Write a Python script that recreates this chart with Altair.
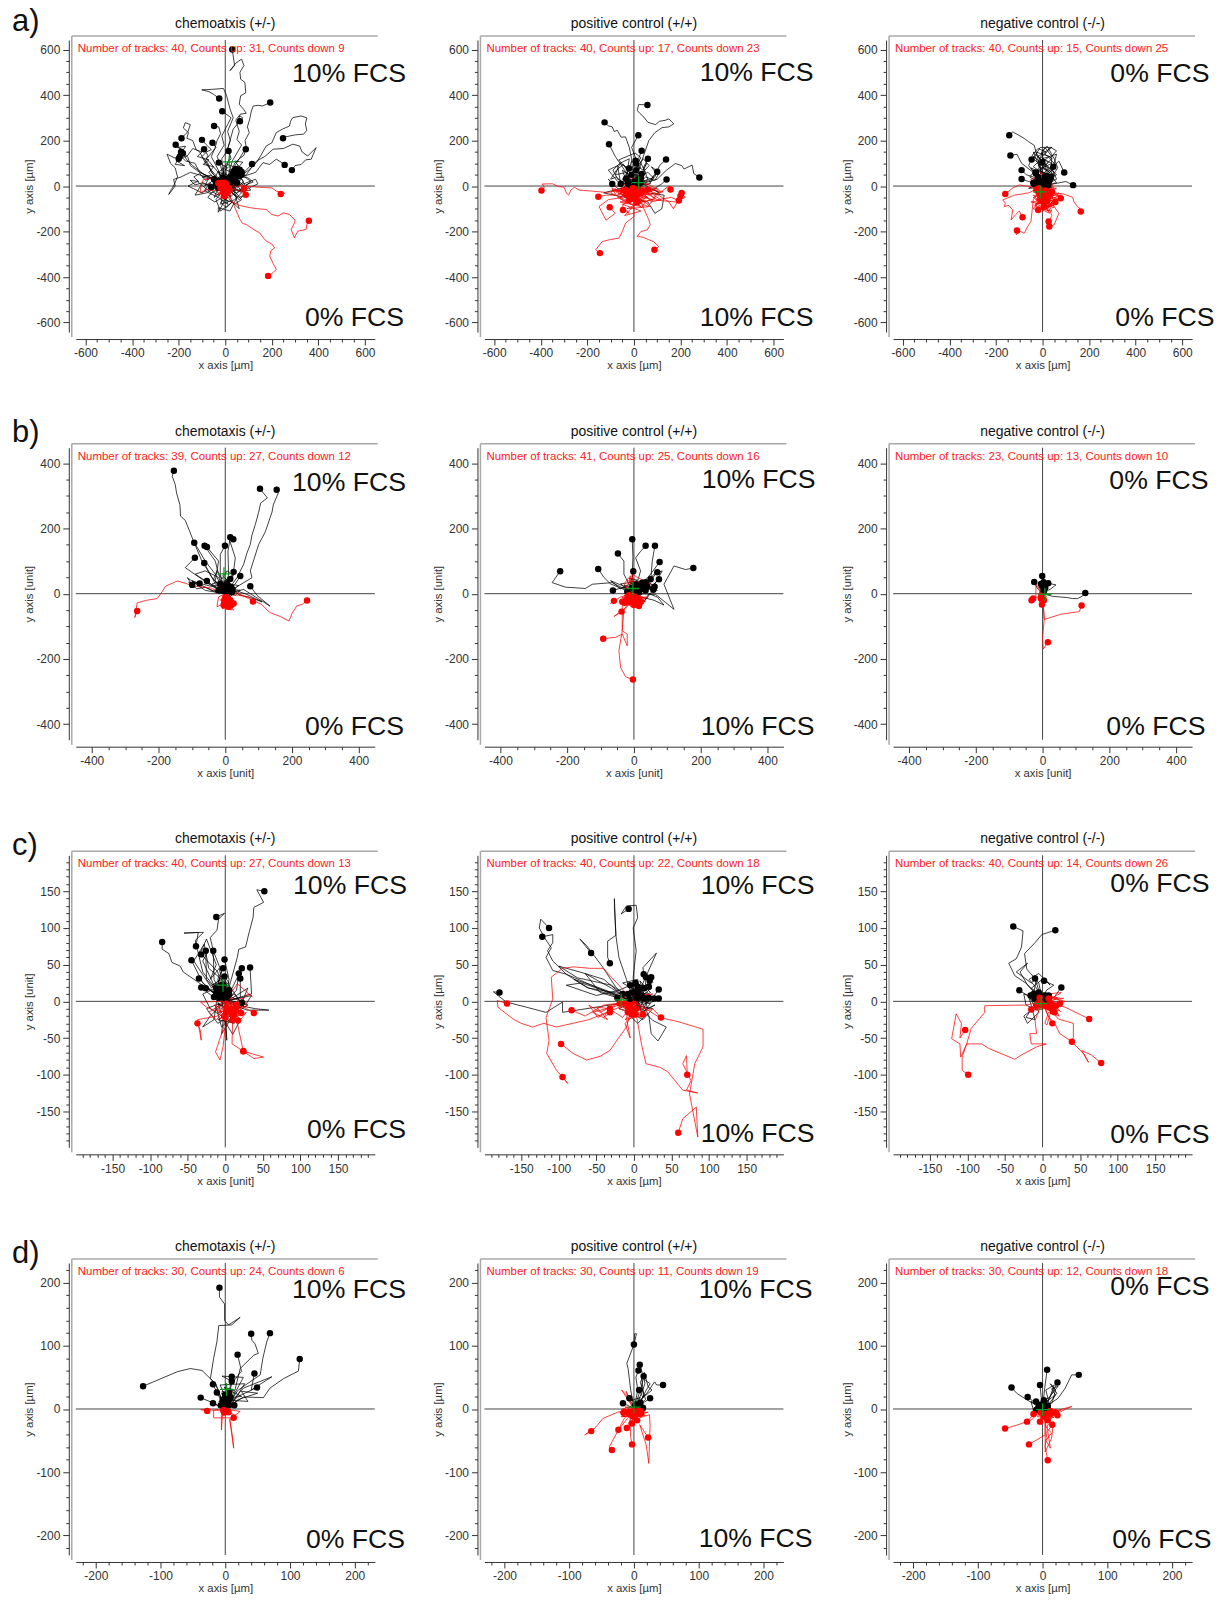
import altair as alt
import pandas as pd

FONT = "Liberation Sans"

A1_BLACK = [
 [0,0,5,85,20,130,12,170,34,250,50,270,64,316,90,320,78,338,60,360,66,397,88,410,84,456,66,470,63,500,80,530,70,558,45,540,20,507,40,530,30,600],
 [0,0,-15,120,5,150,22,200,10,240,34,300,20,340,5,400,-8,429,-60,425,-101,423,-70,415,-51,404,-26,385],
 [0,0,-20,90,-35,130,-5,180,-15,220,10,270,25,300,-13,329],
 [0,0,40,100,60,120,90,170,85,200,103,235,95,260,104,290,112,330,120,352,141,355,160,352,193,367],
 [0,0,30,110,70,180,50,205,60,240,45,290,60,310,75,300,63,285],
 [0,0,-30,70,-45,100,-60,130,-45,165,-35,200,-20,230,-28,260,-48,264],
 [0,0,60,40,100,70,134,103,150,130,176,176,200,190,219,235,245,250,276,264,280,285,290,301,326,308,350,300,344,272,350,245,336,228,300,225,262,217,248,210],
 [0,0,90,50,134,110,170,130,205,162,250,165,290,184,319,176,330,150,354,132,390,169,378,140,369,118,345,115,326,95,300,90,286,70],
 [0,0,70,40,130,60,145,80,162,103,190,95,219,118,240,105,255,93],
 [0,0,-80,40,-150,60,-190,40,-222,29,-215,0,-243,-37,-232,-15,-222,0,-205,40,-215,80,-235,100,-250,140,-220,125,-200,120],
 [0,0,-60,70,-85,100,-110,150,-125,160,-140,200,-165,210,-158,235,-180,255,-172,279,-150,270,-160,240,-188,210],
 [0,0,-60,60,-75,100,-100,130,-80,150,-60,160,-85,185,-100,203],
 [0,0,-30,60,-80,120,-60,145,-40,170,-55,190],
 [0,0,-70,40,-110,60,-150,90,-160,125,-180,150,-213,182],
 [0,0,-50,50,-85,110,-75,135,-91,162],
 [0,0,20,60,45,95,60,120,80,135,88,162],
 [0,0,-10,80,25,120,14,154],
 [0,0,-90,50,-140,90,-165,115,-182,144],
 [0,0,50,30,90,70,115,97],
 [0,0,-20,50,10,80,-28,103],
 [0,0,30,-30,60,20,90,-10,55,66],
 [0,0,-30,40,20,-20,50,30,35,55],
 [0,0,40,-40,110,20,70,50],
 [0,0,-60,20,-90,-20,-30,-50,10,-80,-10,30],
 [0,0,-40,-60,-20,-110,30,-70,60,-100,20,40],
 [0,0,50,-50,20,-110,-30,-95,-30,-115,0,-60,45,75],
 [0,0,-100,10,-130,-40,-80,-30,-50,-10,-20,20],
 [0,0,80,10,130,30,140,10,100,-10,40,-20,30,25],
 [0,0,-60,-30,-120,20,-160,0,-100,-30,-40,10],
 [0,0,90,-30,60,-60,20,-20,50,15],
 [0,0,-20,-80,40,-60,70,-30,10,15],
 [0,0,-15,12,8,25,-22,40,5,52,-30,60,-8,78,20,62,35,85,10,95,-12,70,15,40,40,55,22,20],
 [0,0,18,-14,-10,-28,25,-42,-5,-60,30,-70,5,-95,-20,-72,12,-48,-25,-30,-48,-50,-30,-8],
 [0,0,30,14,52,-8,78,20,60,42,95,38,120,18,88,5,110,-18,70,-22,45,10,62,55],
 [0,0,-22,8,-45,-12,-65,15,-88,0,-72,32,-100,40,-60,48,-40,22,-15,35,-30,65,-48,30],
 [0,0,10,30,35,15,50,45,28,70,55,90,75,65,45,50,70,35,40,30,58,70],
 [0,0,-8,-22,-30,-40,-55,-25,-75,-50,-45,-70,-20,-55,5,-35,-15,-15,5,15],
 [0,0,22,-18,48,-30,70,-12,92,-35,60,-50,35,-35,15,-55,40,-80,70,-60,30,-10,48,60],
 [0,0,-12,18,-35,5,-20,-15,12,-8,30,30,5,45,-15,28,10,10,40,62],
 [0,0,15,8,-5,-12,28,-22,45,5,20,35,65,25,50,68],
 [0,0,-18,-5,4,-18,-12,-38,15,-30,-3,5,25,5,5,30,-5,12],
 [0,0,-40,25,-70,60,-50,85,-95,95,-70,115,-120,130,-100,150,-140,165,-165,130,-190,125,-210,110,-175,90,-215,95,-195,130],
 [0,0,-65,40,-110,60,-130,100,-170,110,-200,140,-180,160,-205,170,-170,175,-205,120,-190,150],
 [0,0,35,40,15,70,60,85,40,110,75,105,55,80,85,60,65,30,45,70],
 [0,0,-35,10,-55,40,-85,25,-110,55,-135,40,-115,20,-150,25,-130,5,-95,15,-60,-5],
 [0,0,55,60],[0,0,62,72],[0,0,70,62],[0,0,48,50],[0,0,-12,38],[0,0,8,30],[0,0,-30,20],[0,0,20,12],
]
A1_RED = [
 [0,0,30,-70,60,-85,105,-95,140,-100,176,-103,200,-125,226,-132,250,-118,276,-125,300,-150,297,-162,283,-191,297,-228,305,-210,312,-198,347,-191,350,-170,359,-153],
 [0,0,35,-80,63,-147,75,-165,91,-169,120,-190,148,-206,165,-230,176,-242,200,-255,212,-272,195,-285,191,-308,205,-340,212,-353,219,-367,200,-385,184,-395],
 [0,0,91,0,140,-5,176,-7,200,-8,219,-22,255,-32,238,-35],
 [0,0,40,-15,70,-25,88,-38],
 [0,0,50,10,75,0,80,-12],
 [0,0,-50,-20,-80,-15,-108,-29,-105,0,-94,29,-70,30,-51,44,-35,15,-20,-10,5,-5],
 [0,0,-30,30,10,40,-15,-25,20,-40,-10,-10],
 [0,0,20,-30,-20,-50,-40,-15,15,20,5,-30],
 [0,0,-40,-10,-25,-40,25,-20,-5,15],
 [0,0,-15,20,15,15,-20,-15,12,-30,-25,-35,-8,-8,20,5,-10,25,-30,12],
 [0,0,25,10,-5,-20,30,-15,10,-45,-12,-25,-30,5,-5,30,15,-10],
 [0,0,-10,-15,18,-5,-25,-20,8,-35,35,-25,5,5,-15,15],
 [0,0,-10,-25],[0,0,10,-30],[0,0,-20,-8],[0,0,15,-10],[0,0,3,10],[0,0,-5,-45],
]
A2_BLACK = [
 [0,0,30,100,64,200,90,235,121,257,150,260,171,274,150,295,135,289,110,285,93,270,60,280,43,303,25,320,14,333,21,359,58,356],
 [0,0,-10,120,-20,170,-36,216,-55,215,-71,245,-85,240,-93,260,-110,265,-126,280],
 [0,0,-40,70,-60,100,-80,130,-107,184],
 [0,0,20,90,-10,170,19,223],
 [0,0,50,60,20,120,33,155],
 [0,0,-30,40,30,80,7,111],
 [0,0,-50,30,-20,70,10,99],
 [0,0,60,30,40,80,60,120],
 [0,0,90,40,110,90,138,117],
 [0,0,100,30,140,70,178,99,205,90,215,75,250,92,257,55,281,38],
 [0,0,70,10,80,40,100,63],
 [0,0,90,-10,120,10,140,29],
 [0,0,-40,20,10,30,33,53],
 [0,0,-70,30,-90,70,-60,100,-21,77],
 [0,0,-60,-20,-110,30,-93,9],
 [0,0,-70,20,-110,70,-70,90,-57,9],
 [0,0,-30,60,-80,50,-60,100,-20,120,-33,33],
 [0,0,60,-30,130,-40,120,-100,90,-120,60,-70,-130,-30,20,10],
 [0,0,-20,30,-50,15,-75,40,-100,30,-75,70,-45,95,-25,65,-10,110,15,85,40,120,65,90,30,50,5,20],
 [0,0,30,20,60,5,85,35,60,60,30,45,5,70,-20,50,-50,70,-35,30,-60,10,-25,10],
 [0,0,-35,5,-50,-15,-15,-25,20,-15,50,-25,85,-15,110,-30,60,-5,30,15],
 [0,0,20,45,-15,55,-40,85,-65,115,-30,130,5,145,30,125,10,90,40,70,55,100,20,30],
 [0,0,-45,-10,-5,10,25,-5,45,25,15,40,-20,25,-45,30,-10,-5],
 [0,0,70,25,95,55,75,85,110,60,90,25,50,40,25,15],
 [0,0,10,70],[0,0,-10,50],[0,0,30,35],
]
A2_RED = [
 [0,0,-60,-20,-121,-28,-180,-22,-235,-18,-255,-5,-271,-18,-280,-40,-290,-32,-300,-5,-321,-3,-350,10,-394,9,-385,-5,-397,-20],
 [0,0,-70,-40,-120,-40,-153,-47],
 [0,0,-50,-50,-110,-60,-150,-90,-120,-150,-80,-120,-104,-93],
 [0,0,-30,-60,-50,-90,-20,-120,-47,-105],
 [0,0,0,-134,-36,-163,-50,-200,-64,-229,-100,-235,-136,-244,-164,-280,-146,-295],
 [0,0,30,-70,64,-149,70,-170,57,-193,30,-200,14,-222,40,-225,64,-236,85,-245,107,-266,88,-280],
 [0,0,60,-40,110,-30,150,0,157,-15],
 [0,0,90,-30,150,-70,170,-100,200,-44],
 [0,0,100,-60,160,-50,193,-64],
 [0,0,70,-60,180,-70,220,-50,205,-30],
 [0,0,-40,-30,40,-50,-60,-70,30,-90,-80,-20,60,-20,-20,-60],
 [0,0,50,-20,-50,-40,30,-70,-30,-100,70,-90,10,-40],
 [0,0,-90,-20,-20,-30,80,-60,-10,-80,-70,-50,20,-20],
 [0,0,30,30,-40,40,-20,-10,50,10,80,-30,-5,-50],
 [0,0,20,-60,-30,-20,60,-50,-50,-80,30,-110,-40,-130,15,-70],
 [0,0,-60,10,-100,-30,-40,-60,40,-35,100,-10,-10,-30],
 [0,0,40,20,110,-20,60,-90,-10,-60,25,-30],
 [0,0,-30,-10,10,-70,-60,-30,35,-10,-15,-40],
 [0,0,-25,-25,5,-35,-20,-50,15,-60,-35,-70,0,-85,30,-75,55,-45,25,-20,-10,-15,-30,-35],
 [0,0,25,-15,-5,-45,30,-40,60,-30,90,-55,45,-70,10,-55,35,-25,0,-20],
 [0,0,-15,-30,15,-25,-40,-45,-15,-65,25,-55,-5,-20,-45,-20,-70,-35,-25,-40],
 [0,0,10,-20,40,-10,15,-40,50,-45,75,-70,115,-60,85,-40,125,-25,60,-15],
 [0,0,-10,-40,20,-30,5,-75,35,-95,50,-65,-5,-50,-25,-75,-60,-55,-35,-20],
 [0,0,-50,-5,-80,-35,-95,-10,-60,-25,-35,-5,-15,-20,10,5,35,-20,15,-35],
 [0,0,-10,-25],[0,0,15,-35],[0,0,-30,-40],[0,0,35,-20],[0,0,5,-55],[0,0,-45,-20],[0,0,20,-15],[0,0,-5,-10],
]
A3_BLACK = [
 [0,0,-10,80,-25,140,-36,179,-60,195,-78,209,-105,225,-128,238,-143,223],
 [0,0,-40,60,-90,100,-110,140,-138,134],
 [0,0,-40,40,-70,50,-90,70],
 [0,0,-60,20,-90,31],
 [0,0,-30,50,-60,90,-47,117],
 [0,0,30,60,-20,90,30,130,-30,150,-1,105],
 [0,0,50,40,-20,70,40,100,0,120,60,140,46,85],
 [0,0,60,30,40,80,70,110,93,60],
 [0,0,50,10,100,20,131,4],
 [0,0,-29,55],
 [0,0,20,30,-20,100,10,170,40,130,36,41],
 [0,0,-20,20,30,60,-40,120,-10,170,40,170,-20,130,50,60,-5,10],
 [0,0,-50,5,20,10,-30,30,50,30,-50,80,-20,40],
 [0,0,40,-5,-60,-10,10,20,60,50,15,90,-40,150,10,25],
 [0,0,-30,-15,30,-10,-40,15],
 [0,0,-25,35,-5,60,-40,85,-15,110,-45,135,-20,165,15,150,-5,125,25,105,0,80,35,65,10,40],
 [0,0,20,20,50,45,25,75,55,95,30,120,60,155,35,170,10,140,40,120,15,95,-10,70,15,45],
 [0,0,-15,15,15,35,-15,50,-30,25,-55,40,-35,65,-10,40,5,20,-15,5],
 [0,0,30,10,45,30,15,45,-10,30,-45,20,-20,10,10,5],
 [0,0,-35,25,-20,75,-5,95,25,80,5,55,35,30,-5,25,-30,60],
 [0,0,25,40,-5,150,20,175,50,120,65,80,40,40,60,15,25,5],
 [0,0,-25,12],[0,0,-10,20],[0,0,15,15],[0,0,-35,8],[0,0,30,25],
]
A3_RED = [
 [0,0,-40,-5,-100,5,-130,-10,-160,-35],
 [0,0,-60,-30,-120,-40,-171,-61,-160,-75,-164,-90,-145,-85,-128,-105,-135,-149,-115,-125,-100,-110,-86,-137],
 [0,0,-40,-60,-45,-110,-50,-156,-65,-180,-78,-207,-95,-200,-114,-214,-110,-195],
 [0,0,50,-30,90,-35,130,-50,135,-70,150,-90,175,-115,164,-112],
 [0,0,30,-60,70,-120,60,-145,50,-170,29,-178],
 [0,0,20,-80,40,-130,26,-156],
 [0,0,-10,-60,-40,-100,-19,-105],
 [0,0,40,-30,90,-50,78,-54],
 [0,0,-30,-30,50,-40,-20,-70,60,-80,-10,-100,40,-110,0,-30],
 [0,0,30,-20,-40,-50,20,-90,70,-60,10,-30,-30,-90,30,-120,-5,-50],
 [0,0,-20,40,-50,30,-30,-10,20,30,-10,60,30,40,50,-20,0,-60],
 [0,0,60,-10,-30,-30,30,-60,-50,-70,40,-90,-20,-40,80,-40,5,-70],
 [0,0,-40,-20,40,-10,-10,-70,70,-30,20,-100,-40,-40,55,-70],
 [0,0,20,-50,-30,-80,50,-60,0,-110,35,-30,-15,-20],
 [0,0,-15,-15,15,-25,-25,-35,20,-45,-20,-55,25,-65,-15,-75,30,-85,-5,-95,10,-60,-25,-15],
 [0,0,15,-10,-25,-20,30,-30,-10,-45,45,-50,5,-70,-30,-60,10,-85,50,-95,-5,-30],
 [0,0,-25,-10,25,-15,-30,-40,40,-35,-5,-60,-35,-85,15,-100,65,-70,25,-45,-15,-10],
 [0,0,10,-30,-40,-25,35,-55,-5,-25,55,-25,15,-75,-30,-75,25,-110,5,-50],
 [0,0,-10,25,20,15,-25,20,10,50,-20,45,15,-5,-35,5,25,-25,-5,-40],
 [0,0,10,-20],[0,0,-15,-30],[0,0,25,-40],[0,0,-10,-55],[0,0,20,-65],[0,0,5,-90],[0,0,-25,-15],[0,0,40,-25],
]
B1_BLACK = [
 [0,0,-30,60,-60,100,-95,161,-114,210,-120,225,-134,238,-136,273,-146,309,-150,335,-159,360,-154,377],
 [0,0,35,49,55,90,65,125,75,151,80,180,90,212,100,250,106,278,126,294,104,322],
 [0,0,80,49,75,70,100,151,120,190,134,232,140,250,144,273,159,309,154,319],
 [0,0,-40,50,-70,100,-93,156],
 [0,0,-20,60,-30,100,-62,147],
 [0,0,-30,40,-20,100,-55,143],
 [0,0,-15,60,-15,120,-1,147],
 [0,0,10,60,8,130,15,173],
 [0,0,25,70,30,110,8,180,24,167],
 [0,0,-50,30,-120,80,-91,110],
 [0,0,-30,30,-63,94],
 [0,0,30,30,45,54],
 [0,0,55,13,134,-38,95,-5,75,23],
 [0,0,15,40,25,67],
 [0,0,-60,10,-114,49,-99,27],
 [0,0,-40,10,-100,40,-77,31],
 [0,0,-25,15,-55,39],
 [0,0,-40,30,-10,40,-20,10],
 [0,0,20,10,40,25,10,30,22,12],
 [0,0,-10,-30,15,-10,5,30],
 [0,0,30,-5,45,10,15,15],
 [0,0,-30,5,-15,25,-5,15],
 [0,0,-20,50,-60,70,-90,60,-30,20,-10,20],
 [0,0,-15,15,-35,8,-60,20,-85,15,-110,35,-70,30,-40,22,-15,30],
 [0,0,20,15,10,40,25,55,5,70,-10,45,-25,70,-35,45,-15,20,5,25],
 [0,0,15,-8,35,8,60,0,90,-15,110,-25,75,-12,40,-3,18,20],
 [0,0,-12,10,8,18,-15,30,6,42,-8,55,12,35,-5,8],
 [0,0,10,20,-8,22,18,30,0,10,-18,20,-5,40,15,45],
 [0,0,5,8],[0,0,-10,12],[0,0,12,22],[0,0,20,5],[0,0,0,25],
]
B1_RED = [
 [0,0,-45,18,-94,23,-120,32,-144,39,-179,23,-190,5,-204,-15,-235,-20,-264,-28,-271,-73,-264,-53],
 [0,0,35,3,70,-15,109,-33,125,-50,134,-58,165,-70,191,-84,200,-60,214,-38,234,-31,245,-21],
 [0,0,40,-5,70,-10,83,-24],
 [0,0,-15,-20,20,-30,-10,-45,25,-50,5,-25],
 [0,0,20,-15,-10,-35,15,-50,0,-20,25,-30],
 [0,0,-10,20,10,40,-15,30,5,-10,10,-40],
 [0,0,15,-30,-5,-15,20,-40,12,-22],
 [0,0,-20,-10,-25,-40,10,-25,-5,-35],
 [0,0,25,-20,5,-45,-5,-20,18,-35],
 [0,0,-5,-10,15,-15,0,-25,18,-28,2,-40,20,-42,5,-30,15,-22],
 [0,0,8,-18,-8,-28,12,-35,-12,-40,10,-45,22,-25,0,-12],
 [0,0,12,-8,-2,-18,20,-20,8,-32,25,-38,-3,-32],
 [0,0,5,-30],[0,0,12,-38],[0,0,-3,-22],[0,0,18,-28],[0,0,8,-15],[0,0,15,-20],
]
B2_BLACK = [
 [0,0,-5,60,-3,110,-5,167],
 [0,0,20,70,5,110,20,130,35,147],
 [0,0,50,40,55,100,60,130,63,147],
 [0,0,-30,60,-30,100,-48,123],
 [0,0,50,60,77,97],
 [0,0,65,-2,120,-48,90,29,120,85,155,74,178,79],
 [0,0,-65,34,-125,29,-145,16,-205,20,-245,34,-221,69],
 [0,0,-70,30,-90,50,-107,76],
 [0,0,-30,20,-63,10],
 [0,0,40,30,70,66],
 [0,0,50,20,75,44],
 [0,0,20,-5,35,10],
 [0,0,40,10,62,21],
 [0,0,-10,30,-2,69],
 [0,0,-20,6],
 [0,0,20,20,5,29],
 [0,0,10,10,25,34],
 [0,0,30,15,50,44],
 [0,0,-40,30,30,40,-20,10,45,25,10,10],
 [0,0,60,25,85,70,60,60,25,15,-30,25,15,5],
 [0,0,15,12,35,5,55,25,40,40,20,28,-5,22,15,18],
 [0,0,-15,8,-35,25,-70,40,-40,15,-10,30,10,42,-15,48,5,12],
 [0,0,25,8,45,18,70,10,50,32,28,20,10,35,35,35],
 [0,0,-8,15,12,8,-12,25,8,22,-5,40,22,22],
 [0,0,20,-10,60,-20,90,-35,70,-10,45,0,30,-25,58,12],
 [0,0,10,12],[0,0,25,18],[0,0,40,22],[0,0,-5,18],
]
B2_RED = [
 [0,0,-35,-30,-35,-114,-45,-175,-40,-226,-25,-255,-3,-263],
 [0,0,-30,-50,-35,-114,-20,-124,-20,-160,-35,-124,-55,-134,-92,-138],
 [0,0,-20,-40,-60,-70,-37,-55],
 [0,0,-40,-10,-70,-30,-60,-22],
 [0,0,-30,-10,15,-30,-20,-35,30,-20,-10,-25],
 [0,0,35,-15,-15,-25,25,-35,-25,-15,40,-10,0,-30],
 [0,0,-40,-20,20,-15,-10,-40,30,-30,-35,-25],
 [0,0,-5,25,-5,60,10,50,50,30,-20,40,5,-15],
 [0,0,10,-25,-30,-5,25,-10,-15,-35,15,-38],
 [0,0,-20,-12,5,-20,-28,-28,12,-28,-10,-15,22,-20,0,-35,-18,-22],
 [0,0,25,-18,-5,-10,-22,-25,18,-35,-8,-32,28,-12,5,-25],
 [0,0,-12,-25,15,-15,-35,-12,-5,-28,35,-25,8,-12],
 [0,0,-25,15,-12,40,5,25,-15,10,-30,30,-10,55,-15,-5],
 [0,0,-10,-25],[0,0,10,-30],[0,0,-20,-20],[0,0,20,-25],[0,0,0,-35],[0,0,-28,-28],
]
B3_BLACK = [
 [0,0,30,-8,75,-12,90,-15,105,-15,120,-7,128,2],
 [0,0,-5,25,5,40,-1,54],
 [0,0,-15,15,-25,36],
 [0,0,10,15,20,38,5,25],
 [0,0,25,15,40,27,17,32],
 [0,0,-8,20,10,30,-5,30],
 [0,0,5,10,-10,30,8,18],
 [0,0,-10,5,8,12,-12,18,10,22,-6,10,3,35],
 [0,0,12,8,-5,15,15,28,-2,22,4,8],
]
B3_RED = [
 [0,0,5,-79,55,-63,110,-55,117,-36],
 [0,0,5,-79,0,-135,2,-170,16,-149],
 [0,0,-20,30,-20,-10,-33,-20],
 [0,0,-15,-10,-28,-15],
 [0,0,-2,-33],
 [0,0,10,-20,-10,-25,12,-10,-5,-15],
 [0,0,-6,-12,8,-8,-8,-22,6,-28,12,-18,-4,-6],
 [0,0,8,-6,-4,-18,10,-25,-10,-12,4,-20],
]
C1_BLACK = [
 [0,0,8,30,16,60,18,71,27,74,32,95,37,114,38,128,51,135,42,152,52,150],
 [0,0,-36,26,-56,40,-60,48,-71,53,-75,65,-84,71,-84,81],
 [0,0,-15,30,-16,69,-20,87,-11,97,-9,112,-1,120,-12,115],
 [0,0,-30,40,-40,83,-29,94,-55,93,-36,94,-39,75],
 [0,0,-10,40,-32,64],
 [0,0,-25,30,-26,69],
 [0,0,-5,40,-16,69],
 [0,0,-30,25,-45,56],
 [0,0,5,30,-1,57],
 [0,0,-10,30,-3,45],
 [0,0,10,20,22,45],
 [0,0,35,10,33,46],
 [0,0,15,15,18,38],
 [0,0,20,5,20,31],
 [0,0,-20,15,-35,31],
 [0,0,-15,5,-32,19],
 [0,0,-10,10,-26,18],
 [0,0,5,25,-1,34],
 [0,0,29,-12,58,-12,40,-10,15,-5,-7,13],
 [0,0,2,-53,0,-30,-6,10],
 [0,0,-20,-20,-30,-35,-15,-25,-10,12],
 [0,0,20,-25,10,-45,-5,-20,-12,8],
 [0,0,35,8,28,-3,10,5,-3,15],
 [0,0,-25,-10,-10,-30,15,-15,30,-5,-8,5],
 [0,0,10,-30,-20,-10,-30,10,-5,22],
 [0,0,-5,-45,15,-10,-3,8],
 [0,0,25,-5,-10,-25,12,-30,5,10],
 [0,0,-12,15,-30,55,-22,70,-35,62,-25,85,-12,50,-20,30,-8,45,-3,20],
 [0,0,-18,22,-5,30,-22,45,-28,78,-42,55,-18,18,-8,30,-12,12],
 [0,0,12,10,25,-8,5,22,-6,35,-15,10,-8,18,6,14,-3,8],
 [0,0,-8,8,8,5,-12,15,3,18,-15,22,0,28,-8,10],
 [0,0,6,-12,-10,-3,12,-18,-5,-35,-12,-8,15,8,30,18,22,-2],
 [0,0,-8,10],[0,0,-12,18],[0,0,-4,14],[0,0,2,6],[0,0,-15,6],[0,0,-2,22],[0,0,5,15],
]
C1_RED = [
 [0,0,-10,-20,-37,-25,-32,-53,-33,-40,-37,-30],
 [0,0,-2,-35,-13,-69,-7,-80,-3,-62,0,-35,10,-20,9,-58,24,-68],
 [0,0,15,-25,24,-68,38,-78,51,-76,24,-68],
 [0,0,20,-5,38,-16],
 [0,0,10,-15,17,-26],
 [0,0,15,-10,21,-16],
 [0,0,16,24,36,6,30,10,8,-10],
 [0,0,-33,-1,-25,-8,-15,-12,5,-15],
 [0,0,10,5,-5,-20,15,-20,-3,-8,10,-25],
 [0,0,8,-12,-10,-15,18,-8,0,-22],
 [0,0,20,-15,5,-25,-15,-5,12,-18],
 [0,0,22,-8,12,-22,28,-15,18,-28,5,-10,-8,-25,15,-5],
 [0,0,-22,-15,-12,-25,5,-8,22,5,30,-5,14,-12],
 [0,0,8,-15],[0,0,14,-10],[0,0,2,-8],
]
C2_BLACK = [
 [0,0,-35,12,-63,25,-90,37,-108,42,-117,60,-110,73,-118,85,-126,100,-124,112,-113,100],
 [0,0,-63,19,-90,37,-108,55,-115,69,-108,80,-108,91,-122,88],
 [0,0,-1,33,3,69,-1,100,5,114,3,131,-10,130,-17,119,-7,126],
 [0,0,-10,30,-20,60,-24,90,-26,128,-26,140,-24,90,-35,82,-35,60,-32,52],
 [0,0,-24,19,-41,46,-63,76,-72,85,-57,66],
 [0,0,-95,-15,-95,-1,-117,-15,-143,-8,-170,-1,-187,13,-179,12],
 [0,0,10,20,30,66,12,46,13,37],
 [0,0,15,15,16,33],
 [0,0,20,15,23,33],
 [0,0,10,15,21,28],
 [0,0,25,5,33,16],
 [0,0,20,-3,33,4],
 [0,0,12,-5,27,4],
 [0,0,25,-26,43,-35,38,-44,32,-54,23,-44,20,-20,5,10],
 [0,0,-40,15,-70,25,-90,22,-50,8,-20,15,2,25],
 [0,0,15,-20,5,-30,-10,-15,5,5,-5,22],
 [0,0,-15,5,10,10,-15,25,5,30,8,8],
 [0,0,-20,-10,10,-18,22,-3,-8,10],
 [0,0,5,25,15,8,-5,15,12,-12,20,5],
 [0,0,-50,20,-80,30,-60,18,-15,10],
 [0,0,-30,22,-75,32,-100,48,-72,40,-40,30,-15,8,-30,18,-65,38,-45,12,-22,5],
 [0,0,8,12,-6,20,12,22,2,5,18,12,8,-8,-8,-8,14,18],
 [0,0,-10,8,6,-5,-5,14,12,2,-12,-5,5,20],
 [0,0,22,12,8,28,18,-10,28,-5,10,-15,2,12],
 [0,0,-6,-15,12,-25,25,-10,0,-5,-12,10,10,22,20,20],
 [0,0,5,5],[0,0,-3,12],[0,0,10,8],[0,0,6,15],[0,0,-6,3],[0,0,14,4],
]
C2_RED = [
 [0,0,-60,-25,-103,-35,-120,-30,-135,-35,-150,-30,-161,-24,-181,-8,-182,1,-169,-3],
 [0,0,-41,45,-59,45,-80,47,-95,45,-110,33,-108,3,-117,-22,-113,-53,-116,-71,-103,-94,-88,-112,-95,-103],
 [0,0,-10,-35,-32,-67,-45,-75,-63,-80,-81,-71,-97,-58],
 [0,0,10,-58,16,-85,35,-90,45,-96,65,-121,85,-125,70,-121,76,-108,65,-85,70,-74,71,-100],
 [0,0,34,-22,60,-28,92,-38,92,-62,81,-85,74,-126,85,-185,83,-144,65,-160,59,-179],
 [0,0,-40,-5,-65,-20,-83,-12],
 [0,0,-55,-15,-35,-25,-50,-8,-32,-10],
 [0,0,-30,-5,-40,-22,-32,-15],
 [0,0,10,-15,25,-10,36,-22],
 [0,0,-19,-3],
 [0,0,-10,-22,-5,-50,-12,-30,5,-15,-5,-15],
 [0,0,15,-10,-10,-12,8,5,-8,-8,12,-18],
 [0,0,-5,-15,-15,5,10,12,-3,-18],
 [0,0,25,10,-5,8,-20,-10,10,-22,-7,-5],
 [0,0,-25,-5,-45,-15,-60,-5,-48,-22,-30,-12,-15,-22,-5,-8],
 [0,0,-8,-12,6,-20,-12,-25,8,-10,-15,-8,2,-18],
 [0,0,-8,-8],[0,0,-4,-14],[0,0,-12,-3],[0,0,3,-10],[0,0,-8,-15],
]
C3_BLACK = [
 [0,0,-10,12,-21,24,-37,35,-45,52,-35,58,-28,74,-26,96,-39,102],
 [0,0,-5,25,-21,44,-24,65,-10,80,-1,91,17,97],
 [0,0,-5,15,-10,31],
 [0,0,5,15,15,22,2,28],
 [0,0,15,5,25,19],
 [0,0,-15,5,-31,15],
 [0,0,-16,8],
 [0,0,-25,-20,-20,-30,-5,-15,-12,8],
 [0,0,5,12,-8,8,3,-10,-5,12],
 [0,0,8,-5,12,10,-3,5,8,8],
 [0,0,-18,5,-10,-25,-22,-22,-5,6],
 [0,0,-20,22,-30,40,-20,52,-35,40,-15,25,-8,32,-12,10],
 [0,0,-8,18,-18,30,-5,38,10,22,2,32,-15,18,3,5],
 [0,0,10,8,-10,3,12,-3,-8,10,-3,-8,6,6],
 [0,0,-12,5,-25,10,-22,-5,-8,-12,-16,3,5,-3],
 [0,0,-6,6],[0,0,2,8],[0,0,8,4],[0,0,-10,3],
]
C3_RED = [
 [0,0,-21,-5,-77,-6,-77,-15,-95,-37,-101,-58,-109,-76,-110,-58,-121,-51,-115,-17,-108,-30,-110,-50,-103,-39],
 [0,0,-10,-26,-8,-44,-17,-44,-15,-58,5,-58,-8,-62,-28,-73,-37,-79,-72,-64,-81,-58,-101,-58,-107,-76,-107,-94,-99,-100],
 [0,0,8,-21,16,-30,23,-44,39,-55,56,-73,61,-83,52,-67,65,-73,78,-84],
 [0,0,21,-24,41,-30,41,-49,39,-55],
 [0,0,30,-8,62,-24],
 [0,0,5,-15,13,-30],
 [0,0,-15,-11],
 [0,0,10,-12,16,-15],
 [0,0,23,-3],
 [0,0,-10,-8,10,8,-12,8,25,12,-5,-8,18,-12,0,-5],
 [0,0,12,-8,-8,-12,20,5,-3,10,-10,-5,10,-3],
 [0,0,-8,5,15,-10,5,10,-12,-3,8,-8],
 [0,0,18,-12,22,-20,8,-15,3,-30,6,-32,12,-10],
 [0,0,-7,-6,6,5,-8,4,4,-7,-4,8,10,0,-6,-3],
 [0,0,28,4,12,5,30,0,14,-8,24,-14,8,2,-4,5],
 [0,0,-5,-3],[0,0,5,-6],[0,0,8,4],[0,0,-8,-6],[0,0,12,-4],[0,0,18,-6],[0,0,14,-14],
]
D1_BLACK = [
 [0,0,-15,40,-23,48,-18,80,-13,106,-10,132,10,133,23,145,5,133,-1,140,-1,166,-9,177,-9,192],
 [0,0,15,30,23,64,44,85,51,88,46,103,41,109,40,119],
 [0,0,20,30,54,54,58,80,64,106,69,120],
 [0,0,10,40,25,60,19,86],
 [0,0,28,19,59,18,69,33,90,48,113,60,115,79],
 [0,0,-15,40,-36,61,-54,64,-74,59,-127,36],
 [0,0,28,33,72,51,40,30,45,56],
 [0,0,20,20,49,34],
 [0,0,-10,20,-19,39],
 [0,0,5,20,10,51],
 [0,0,12,20,28,50,-5,52,10,44],
 [0,0,-20,10,-38,18],
 [0,0,-19,9],
 [0,0,-5,15,-13,26],
 [0,0,14,6],
 [0,0,20,15,50,25,25,28,35,12,5,14],
 [0,0,-8,10,8,25,-5,28,-3,12],
 [0,0,10,8,30,40,-8,38,6,6,-2,16],
 [0,0,5,12,-6,6,8,20,-4,22,3,8,-8,16,6,26],
 [0,0,-4,14,12,16,-6,24,14,30,-2,34,25,20,8,18],
 [0,0,-8,5,2,10,-10,12,4,18,-5,10,0,22],
 [0,0,0,8],[0,0,-4,14],[0,0,4,12],[0,0,-7,6],[0,0,6,6],[0,0,2,20],
]
D1_RED = [
 [0,0,-10,-2,-38,-1,-28,-3],
 [0,0,-18,-2,-18,-14,8,-14,7,-17,10,-36,13,-62,7,-17,13,-14],
 [0,0,-6,-10,-6,-33,-4,-6,-2,-2],
 [0,0,12,-2,23,-4,15,-10,5,-5],
 [0,0,-5,-8,5,-3,-5,-4,3,-8,-3,-2],
 [0,0,4,-5,-6,-4,2,-9,-4,-10,5,-7,0,-3],
 [0,0,-2,-5],[0,0,3,-4],
]
D2_BLACK = [
 [0,0,-5,30,-9,64,-11,72,0,102,4,119,1,119,0,102],
 [0,0,10,30,15,50,9,70],
 [0,0,6,30,3,50,7,61],
 [0,0,12,25,17,40,15,52],
 [0,0,15,20,20,25,32,43,35,38,45,38],
 [0,0,15,10,25,17],
 [0,0,14,2],
 [0,0,-8,5,-17,9],
 [0,0,-3,8,-7,17],
 [0,0,15,20,12,50,25,40,18,28,10,10],
 [0,0,8,4,10,3],
 [0,0,18,15,10,42,16,58,22,35,28,30,14,18,8,30],
 [0,0,-6,4,6,10,-4,14,10,18,2,6],
]
D2_RED = [
 [0,0,-25,-5,-48,-15,-60,-30,-76,-41,-66,-35],
 [0,0,-15,-15,-25,-35,-38,-60,-34,-65],
 [0,0,-10,-15,-24,-33],
 [0,0,-5,-15,-11,-30],
 [0,0,-3,-23],
 [0,0,-6,-20,-5,-45,-3,-56],
 [0,0,6,-15,24,-9,25,-25,23,-86,19,-57,9,-25,22,-45],
 [0,0,11,-7],
 [0,0,-19,30,-9,19,-12,28,-3,5,-20,-8,18,-10,-15,-5,10,-3],
 [0,0,-22,-6,12,-12,-18,-12,22,-5,-8,-14,5,-18],
 [0,0,-14,3,15,2,-20,-3,8,-8,-12,-10,2,-4],
 [0,0,-18,-2,8,-4,-15,-8,14,-6,-6,-2,-20,-12,10,-12,-4,-8],
 [0,0,10,-5,-12,-3,18,-3,-8,-10,4,-14,-16,-6],
 [0,0,-10,-5],[0,0,-4,-8],[0,0,4,-5],[0,0,-15,-4],[0,0,8,-3],[0,0,0,-12],
]
D3_BLACK = [
 [0,0,-25,15,-40,25,-48,34],
 [0,0,-12,10,-23,19],
 [0,0,-10,12],
 [0,0,-2,18,-4,38],
 [0,0,3,30,7,62],
 [0,0,12,20,23,42],
 [0,0,24,17,35,33,45,54,56,54],
 [0,0,15,10,20,30,12,40,22,25,8,5],
 [0,0,-8,3,8,5,-5,8,5,2],
 [0,0,10,15,18,38,5,30,10,10,-3,5],
 [0,0,-14,-2,-18,12,-7,6,3,2],
 [0,0,6,12,20,22,14,32,24,36,10,18,2,14],
 [0,0,-6,4,-14,0,-8,8,6,8,-10,-2],
 [0,0,-6,3],[0,0,4,4],[0,0,-2,7],[0,0,8,2],
]
D3_RED = [
 [0,0,-17,-17,-38,-25,-58,-31],
 [0,0,-15,-10,-24,-20],
 [0,0,4,-20,4,-41,-21,-56],
 [0,0,-4,-20],
 [0,0,4,-20,4,-45,4,-68,14,-46,17,-20,8,-25,4,-60,8,-81],
 [0,0,-14,-8],
 [0,0,20,-3,45,4,28,-4,23,-10],
 [0,0,15,-8,28,-2,10,-12,24,-5,-5,-10,8,-18],
 [0,0,-8,-12,14,-15,3,-5,18,-14,2,-12],
 [0,0,10,-5,-4,-6,18,-9,6,-14,24,-8,12,-3],
 [0,0,6,-30,14,-38,5,-50,12,-62,8,-35,15,-25],
 [0,0,5,-8],[0,0,12,-8],[0,0,20,-5],[0,0,-3,-5],
]

PANELS = [
 ("chemoatxis (+/-)", 642, 200, 50, "[µm]", "Number of tracks: 40, Counts up: 31, Counts down 9", "10% FCS", "0% FCS", (217,42), (230,287), A1_BLACK, A1_RED, (17,106), "a)", -9),
 ("positive control (+/+)", 642, 200, 50, "[µm]", "Number of tracks: 40, Counts up: 17, Counts down 23", "10% FCS", "10% FCS", (216,41), (216,287), A2_BLACK, A2_RED, (20,15), None, 0),
 ("negative control (-/-)", 642, 200, 50, "[µm]", "Number of tracks: 40, Counts up: 15, Counts down 25", "0% FCS", "0% FCS", (218,42), (223,287), A3_BLACK, A3_RED, (-10,-26), None, 0),
 ("chemotaxis (+/-)", 448, 200, 50, "[unit]", "Number of tracks: 39, Counts up: 27, Counts down 12", "10% FCS", "0% FCS", (217,43), (230,288), B1_BLACK, B1_RED, (-4,61), "b)", -6),
 ("positive control (+/+)", 448, 200, 50, "[unit]", "Number of tracks: 41, Counts up: 25, Counts down 16", "10% FCS", "10% FCS", (218,40), (217,288), B2_BLACK, B2_RED, (-3,16), None, 0),
 ("negative control (-/-)", 448, 200, 50, "[unit]", "Number of tracks: 23, Counts up: 13, Counts down 10", "0% FCS", "0% FCS", (217,41), (214,288), B3_BLACK, B3_RED, (7,-2), None, 0),
 ("chemotaxis (+/-)", 199, 50, 10, "[unit]", "Number of tracks: 40, Counts up: 27, Counts down 13", "10% FCS", "0% FCS", (218,39), (232,284), C1_BLACK, C1_RED, (-3,22), "c)", 0),
 ("positive control (+/+)", 199, 50, 10, "[µm]", "Number of tracks: 40, Counts up: 22, Counts down 18", "10% FCS", "10% FCS", (217,39), (217,288), C2_BLACK, C2_RED, (-17,2), None, 0),
 ("negative control (-/-)", 199, 50, 10, "[µm]", "Number of tracks: 40, Counts up: 14, Counts down 26", "0% FCS", "0% FCS", (218,37), (218,289), C3_BLACK, C3_RED, (-2,-3), None, 0),
 ("chemotaxis (+/-)", 231, 100, 20, "[µm]", "Number of tracks: 30, Counts up: 24, Counts down 6", "10% FCS", "0% FCS", (217,35), (231,286), D1_BLACK, D1_RED, (2,31), "d)", 0),
 ("positive control (+/+)", 231, 100, 20, "[µm]", "Number of tracks: 30, Counts up: 11, Counts down 19", "10% FCS", "10% FCS", (215,35), (215,285), D2_BLACK, D2_RED, (0,3), None, 0),
 ("negative control (-/-)", 231, 100, 20, "[µm]", "Number of tracks: 30, Counts up: 12, Counts down 18", "0% FCS", "0% FCS", (218,32), (220,286), D3_BLACK, D3_RED, (0,-1), None, 0),
]

W, H = 300, 293
ONE = pd.DataFrame({"a": [0]})
AXC = "#333333"
GREY = "#a8a8a8"
PLUS = "M-1,0L1,0M0,-1L0,1"


def frames(tracks):
    rows, ends = [], []
    for t, flat in enumerate(tracks):
        pts = list(zip(flat[0::2], flat[1::2]))
        for i, (x, y) in enumerate(pts):
            rows.append({"t": t, "i": i, "x": x, "y": y})
        ends.append({"x": pts[-1][0], "y": pts[-1][1]})
    return pd.DataFrame(rows), pd.DataFrame(ends)


def axis(title, major, minor, R):
    vals, v = [], -(R // minor) * minor
    while v <= R:
        vals.append(v)
        v += minor
    return alt.Axis(
        title=title, values=vals, offset=7, grid=False,
        labelExpr=f"datum.value % {major} == 0 ? '' + datum.value : ''",
        labelOverlap=False, labelFlush=False, labelFont=FONT, labelFontSize=12,
        labelColor=AXC, labelPadding=3, titleFont=FONT, titleFontSize=11.4,
        titleFontWeight="normal", titleColor=AXC, titlePadding=1,
        domainColor=AXC, tickColor=AXC, domainWidth=1, tickWidth=1,
        tickSize={"condition": {"test": f"datum.value % {major} == 0", "value": 6}, "value": 3},
    )


def label(text, px, py, size, color="#111111", align="left", baseline="alphabetic"):
    return alt.Chart(ONE).mark_text(
        text=text, font=FONT, fontSize=size, color=color, align=align, baseline=baseline
    ).encode(x=alt.value(px), y=alt.value(py))


def panel(title, R, major, minor, unit, info, top, bottom, tpos, bpos, black, red, centre, tag, tagy):
    sx = alt.Scale(domain=[-R, R], nice=False, zero=False)
    sy = alt.Scale(domain=[-R, R], nice=False, zero=False)
    X = alt.X("x:Q", scale=sx, axis=axis(f"x axis {unit}", major, minor, R))
    Y = alt.Y("y:Q", scale=sy, axis=axis(f"y axis {unit}", major, minor, R))
    bl, be = frames(black)
    rl, re = frames(red)
    layers = [
        alt.Chart(pd.DataFrame({"x": [0]})).mark_rule(color="#444444", strokeWidth=1).encode(x=X),
        alt.Chart(pd.DataFrame({"y": [0]})).mark_rule(color="#444444", strokeWidth=1).encode(y=Y),
        alt.Chart(bl).mark_line(color="#000000", strokeWidth=0.75).encode(x=X, y=Y, detail="t:N", order="i:Q"),
        alt.Chart(rl).mark_line(color="#ff0000", strokeWidth=0.75).encode(x=X, y=Y, detail="t:N", order="i:Q"),
        alt.Chart(be).mark_circle(color="#000000", size=42, opacity=1).encode(x=X, y=Y),
        alt.Chart(re).mark_circle(color="#ff0000", size=42, opacity=1).encode(x=X, y=Y),
        alt.Chart(pd.DataFrame({"x": [centre[0]], "y": [centre[1]]})).mark_point(
            shape=PLUS, size=170, color="#0a9a1e", strokeWidth=1.3, filled=False, opacity=1
        ).encode(x=X, y=Y),
        alt.Chart(ONE).mark_rule(color=GREY, strokeWidth=1.5).encode(x=alt.value(-4), x2=alt.value(303), y=alt.value(-4)),
        alt.Chart(ONE).mark_rule(color=GREY, strokeWidth=1.5).encode(x=alt.value(-4), y=alt.value(-4), y2=alt.value(298)),
        label(title, W / 2, -16, 14, align="center", baseline="middle"),
        label(info, 2, 9, 11.5, color="#ff2020", baseline="middle"),
        label(top, tpos[0], tpos[1], 26.7),
        label(bottom, bpos[0], bpos[1], 26.7),
    ]
    if tag:
        layers.append(label(tag, -64, tagy, 31))
    return alt.layer(*layers).properties(width=W, height=H)


charts = [panel(*p) for p in PANELS]

chart = alt.concat(
    *charts, columns=3, spacing={"row": 116, "column": 110}, bounds="flush"
).properties(
    padding={"left": 4, "top": -4.5, "right": 0, "bottom": 0}, background="white"
).configure_view(stroke=None)

chart.save("out.html", embed_options={"renderer": "svg", "actions": False})
